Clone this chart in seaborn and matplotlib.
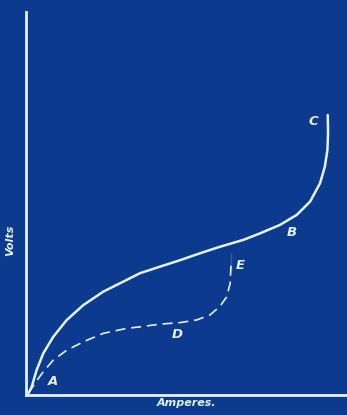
import matplotlib
matplotlib.use("Agg")
import matplotlib.pyplot as plt
import seaborn as sns
import pandas as pd

# characteristic curves (arbitrary units 0..100)
solid_amps = [0.8, 1.8, 3.3, 5.4, 8.5, 12.7, 17.9, 24.1, 30.3, 35.5, 41.7, 48.0, 54.2, 60.4,
              67.7, 72.9, 79.1, 84.3, 88.5, 91.6, 93.1, 93.9, 94.1, 94.0]
solid_volts = [0.5, 2.2, 6.5, 10.9, 15.2, 19.6, 23.5, 27.0, 29.6, 31.8, 33.5, 35.2, 37.0, 38.7,
               40.5, 42.2, 44.4, 47.0, 50.5, 55.3, 59.6, 64.0, 68.4, 73.1]

dashed_amps = [0.8, 2.8, 5.4, 8.5, 12.7, 17.9, 24.1, 31.4, 35.5, 41.7, 48.0, 53.2, 57.3,
               60.4, 62.5, 63.6, 63.9, 63.9]
dashed_volts = [0.5, 3.1, 6.1, 9.1, 11.7, 13.9, 16.1, 17.4, 17.8, 18.5, 18.9, 19.6, 20.9,
                23.1, 25.6, 29.1, 32.6, 37.0]

point_labels = ["A", "B", "C", "D", "E"]
point_amps = [8.4, 82.9, 89.4, 47.0, 66.7]
point_volts = [3.4, 42.3, 71.5, 15.7, 33.9]

bg = '#0b3a8e'
ink = '#e4f2fa'

sns.set_style("white")
plt.rcParams['font.family'] = ['DejaVu Sans']

fig = plt.figure(figsize=(3.47, 4.15), dpi=100, facecolor=bg)
ax = fig.add_axes([26 / 347, 20 / 415, 321 / 347, 383 / 415])
ax.set_facecolor(bg)

solid = pd.DataFrame({'amps': solid_amps, 'volts': solid_volts})
dashed = pd.DataFrame({'amps': dashed_amps, 'volts': dashed_volts})

sns.lineplot(data=solid, x='amps', y='volts', sort=False, ax=ax,
             color=ink, linewidth=1.8, solid_capstyle='round', solid_joinstyle='round')
sns.lineplot(data=dashed, x='amps', y='volts', sort=False, ax=ax,
             color=ink, linewidth=1.2, linestyle=(0, (6, 3.5)), dash_joinstyle='round')

for lab, xa, yv in zip(point_labels, point_amps, point_volts):
    ax.text(xa, yv, lab, color=ink, fontsize=9.5, style='italic', fontweight='bold',
            ha='center', va='center')

ax.set_xlim(0, 100)
ax.set_ylim(0, 100)
ax.set_xticks([])
ax.set_yticks([])
for side in ['top', 'right']:
    ax.spines[side].set_visible(False)
for side in ['left', 'bottom']:
    ax.spines[side].set_color(ink)
    ax.spines[side].set_linewidth(2)

ax.set_xlabel('Amperes.', color=ink, fontsize=8, style='italic', fontweight='bold', labelpad=2)
ax.set_ylabel('Volts', color=ink, fontsize=8, style='italic', fontweight='bold')
ax.yaxis.set_label_coords(-0.035, 0.405)

fig.savefig('out.png', dpi=100, facecolor=bg)
